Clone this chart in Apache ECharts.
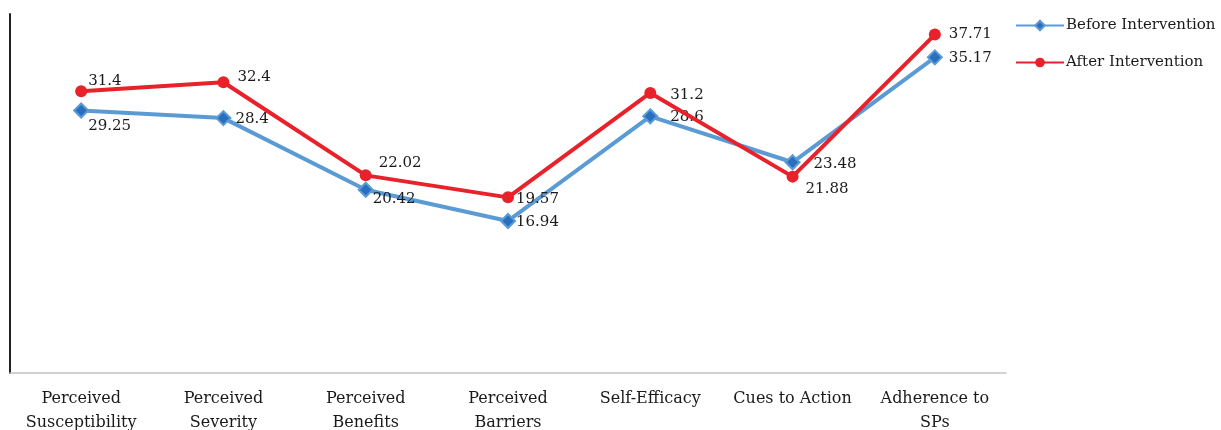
<!DOCTYPE html>
<html>
<head>
<meta charset="utf-8">
<script src="https://cdn.jsdelivr.net/npm/echarts@6/dist/echarts.min.js"></script>
<style>
  html, body { margin: 0; padding: 0; background: #fff; }
  #chart { width: 1221px; height: 430px; }
</style>
</head>
<body>
<div id="chart"></div>
<script>
let categories = ['Perceived\nSusceptibility', 'Perceived\nSeverity', 'Perceived\nBenefits',
    'Perceived\nBarriers', 'Self-Efficacy', 'Cues to Action', 'Adherence to\nSPs'];
let before = [29.25, 28.4, 20.42, 16.94, 28.6, 23.48, 35.17];
let after = [31.4, 32.4, 22.02, 19.57, 31.2, 21.88, 37.71];

// label offsets per point (styling only)
let beforeOffsets = [[-7, 16], [-2, 1], [-7, 9], [-6, 1], [6, 1], [7, 2], [0, 1]];
let afterOffsets = [[-5, -10], [2, -5], [1, -12], [-4, 2], [8, 2], [1, 12], [2, 0]];

let font = 'DejaVu Serif';
let chart = echarts.init(document.getElementById('chart'));

function withLabels(values, offsets) {
    let out = [];
    for (let i = 0; i < values.length; i++) {
        out.push({ value: values[i], label: { offset: offsets[i] } });
    }
    return out;
}

let option = {
    animation: false,
    textStyle: { fontFamily: font },
    grid: { left: 10, right: 215, top: 14, bottom: 57, containLabel: false, outerBoundsMode: 'none' },
    legend: {
        orient: 'vertical',
        left: 1010,
        top: 13,
        itemGap: 22,
        itemWidth: 48,
        itemHeight: 12,
        textStyle: { fontFamily: font, fontSize: 15, color: '#1a1a1a', padding: [0, 0, 0, -3] },
        data: ['Before Intervention', 'After Intervention']
    },
    xAxis: {
        type: 'category',
        data: categories,
        axisLine: { lineStyle: { color: '#c4c4c4', width: 1.5 } },
        axisTick: { show: false },
        axisLabel: { fontFamily: font, fontSize: 16, color: '#1a1a1a', lineHeight: 24, margin: 14, interval: 0 }
    },
    yAxis: {
        type: 'value',
        min: 0,
        max: 40,
        axisLine: { show: true, lineStyle: { color: '#222', width: 2 } },
        axisTick: { show: false },
        axisLabel: { show: false },
        splitLine: { show: false }
    },
    series: [
        {
            name: 'Before Intervention',
            type: 'line',
            data: withLabels(before, beforeOffsets),
            symbol: 'diamond',
            symbolSize: 14,
            lineStyle: { color: '#5b9bd5', width: 4 },
            itemStyle: { color: '#2a6fbf', borderColor: '#5b9bd5', borderWidth: 2 },
            label: { show: true, position: 'right', distance: 6, fontFamily: font, fontSize: 15, color: '#1a1a1a' },
            z: 2
        },
        {
            name: 'After Intervention',
            type: 'line',
            data: withLabels(after, afterOffsets),
            symbol: 'circle',
            symbolSize: 12,
            lineStyle: { color: '#e8212a', width: 4 },
            itemStyle: { color: '#e8212a' },
            label: { show: true, position: 'right', distance: 6, fontFamily: font, fontSize: 15, color: '#1a1a1a' },
            z: 3
        }
    ]
};

chart.setOption(option);
</script>
</body>
</html>
